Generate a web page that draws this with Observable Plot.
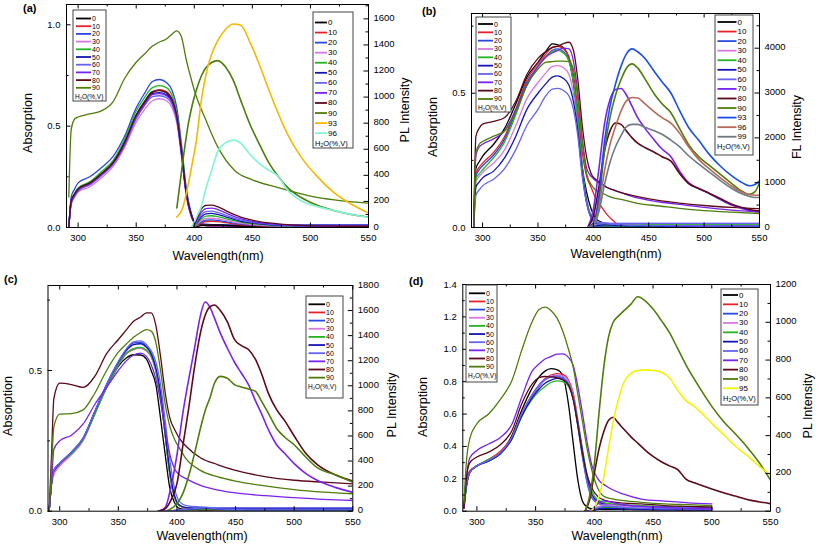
<!DOCTYPE html>
<html><head><meta charset="utf-8">
<script src="https://cdn.jsdelivr.net/npm/d3@7"></script>
<script src="https://cdn.jsdelivr.net/npm/@observablehq/plot@0.6"></script>
<style>
body{margin:0;background:#fff;font-family:"Liberation Sans",Arial,sans-serif}
#wrap{position:relative;width:817px;height:548px;overflow:hidden;background:#fff}
#wrap svg{position:absolute;overflow:visible}
</style></head>
<body><div id="wrap"></div>
<script>
// ---------- series colours ----------
const baseColors = {"0":"#000000","10":"#e8202a","20":"#2848e0","30":"#d878e0","40":"#22b422","50":"#1414b4","60":"#6464f0","70":"#7a22ee","80":"#5c0a1a","90":"#4e7d0a"};
const aExtraColors = {"93":"#f6b800","96":"#80f5d4"};
const bExtraColors = {"93":"#1a4fe8","96":"#b7695a","99":"#6e7a80"};
const dExtraColors = {"95":"#f4f400"};
const absSeries = ["0","10","20","30","40","50","60","70","80","90"];

// ---------- ticks ----------
const xMajor = [300,350,400,450,500,550];
const xMinor = [325,375,425,475,525];

// ================= Panel (a) =================
const aAbsNm = [292,294,297,300,310,320,330,340,350,357,364,370,376,381,385,389,393,397,401,410,420,435,450,470,500,550];
const aAbs = {
 "0": [0,.13,.165,.19,.22,.265,.32,.42,.555,.62,.67,.678,.665,.625,.545,.37,.17,.065,.02,.008,.006,.005,.005,.005,.005,.005],
 "10":[0,.12,.16,.185,.215,.26,.315,.415,.55,.615,.665,.68,.67,.63,.55,.38,.18,.07,.022,.01,.008,.007,.006,.006,.005,.005],
 "20":[0,.15,.19,.22,.25,.295,.35,.45,.59,.66,.72,.73,.715,.675,.59,.41,.2,.08,.025,.015,.014,.013,.013,.013,.013,.013],
 "30":[0,.11,.15,.175,.2,.245,.3,.395,.52,.58,.625,.635,.625,.59,.515,.35,.16,.06,.02,.01,.008,.007,.006,.006,.006,.006],
 "40":[0,.13,.17,.195,.225,.275,.33,.435,.575,.64,.69,.70,.69,.65,.565,.39,.19,.075,.022,.012,.01,.009,.008,.008,.008,.008],
 "50":[0,.12,.16,.185,.215,.26,.315,.415,.55,.612,.66,.665,.655,.62,.54,.37,.175,.07,.022,.015,.013,.012,.012,.012,.012,.012],
 "60":[0,.12,.155,.18,.21,.255,.31,.405,.535,.6,.645,.65,.64,.605,.53,.36,.17,.065,.02,.014,.012,.011,.011,.011,.011,.011],
 "70":[0,.125,.16,.185,.215,.26,.315,.41,.545,.605,.655,.66,.65,.615,.535,.365,.17,.065,.02,.01,.008,.007,.006,.006,.006,.006],
 "80":[0,.13,.165,.19,.22,.265,.32,.42,.555,.62,.668,.675,.665,.63,.55,.375,.175,.07,.022,.012,.01,.008,.007,.007,.007,.007],
 "90":[.15,.48,.535,.545,.56,.575,.62,.735,.815,.855,.895,.915,.93,.955,.97,.94,.83,.74,.66,.53,.40,.28,.235,.20,.155,.12]
};
const aPlNm = [385,390,395,398,402,406,410,415,420,427,434,440,448,456,464,472,480,492,506,520,535,550];
const aPl = {
 "0": [null,null,null,0,6,14,18,20,19,16,13,10,8,7,6,5,4,4,3,3,3,3],
 "10":[null,null,null,0,15,35,46,48,45,37,28,22,17,13,11,9,7,6,5,4,4,3],
 "20":[null,null,null,0,18,42,56,58,54,44,34,27,20,16,13,10,8,7,6,5,4,4],
 "30":[null,null,null,0,22,52,70,72,67,55,42,33,25,19,15,12,10,8,7,6,5,4],
 "40":[null,null,null,0,28,65,88,90,84,68,52,41,31,24,19,15,12,9,8,6,5,5],
 "50":[null,null,null,0,35,80,105,108,100,82,62,48,37,28,22,17,14,11,9,7,6,5],
 "60":[null,null,null,0,40,95,122,125,116,95,72,57,43,33,26,20,16,12,10,8,7,6],
 "70":[null,null,null,0,50,115,145,148,138,112,86,68,50,38,30,24,19,14,11,9,8,7],
 "80":[null,null,null,0,60,140,170,172,160,130,100,80,60,45,35,28,22,16,12,10,9,8],
 "90":[150,500,800,930,1060,1160,1225,1265,1280,1230,1120,975,790,640,500,395,310,230,170,130,100,80],
 "93":[80,150,340,480,680,970,1170,1330,1430,1520,1560,1550,1420,1250,1060,880,720,540,390,270,180,110],
 "96":[null,null,null,5,80,160,300,440,580,650,670,645,560,490,440,395,290,205,160,130,100,78]
};
const aPlSeries = ["0","10","20","30","40","50","60","70","80","90","93","96"];

// ================= Panel (b) =================
const bAbsNm = [292,294,297,300,310,320,330,340,350,357,363,368,373,378,382,386,390,394,398,402,407,412,418,425,440,460,480,500,525,550];
const bAbs = {
 "0": [0,.22,.245,.265,.31,.37,.46,.56,.615,.655,.684,.68,.67,.63,.54,.40,.225,.13,.07,.035,.02,.015,.012,.01,.008,.008,.008,.008,.008,.008],
 "10":[0,.2,.225,.24,.28,.34,.44,.55,.61,.645,.672,.675,.665,.635,.57,.44,.28,.19,.15,.11,.08,.05,.025,.005,0,0,0,0,0,0],
 "20":[0,.19,.215,.23,.27,.33,.43,.54,.60,.635,.66,.665,.655,.62,.54,.40,.22,.1,.04,.02,.012,.01,.009,.008,.008,.008,.008,.008,.008,.008],
 "30":[0,.17,.19,.205,.24,.29,.38,.48,.54,.575,.60,.603,.595,.57,.50,.38,.21,.1,.045,.025,.018,.016,.015,.015,.015,.015,.015,.015,.015,.015],
 "40":[0,.18,.2,.215,.26,.32,.42,.53,.60,.635,.655,.66,.65,.62,.54,.40,.22,.1,.04,.02,.012,.01,.01,.01,.01,.01,.01,.01,.01,.01],
 "50":[0,.15,.17,.185,.21,.26,.34,.44,.50,.535,.56,.565,.555,.53,.47,.36,.2,.09,.035,.015,.008,.006,.005,.005,.005,.005,.005,.005,.005,.005],
 "60":[0,.12,.14,.155,.18,.22,.29,.38,.44,.49,.515,.518,.51,.49,.44,.34,.19,.09,.035,.02,.018,.016,.015,.015,.015,.015,.015,.015,.015,.015],
 "70":[0,.27,.3,.31,.33,.36,.44,.53,.60,.635,.65,.66,.668,.665,.62,.50,.33,.22,.19,.175,.16,.15,.14,.13,.11,.095,.085,.075,.065,.058],
 "80":[0,.34,.37,.385,.395,.41,.47,.57,.63,.655,.67,.675,.685,.69,.66,.55,.38,.26,.20,.18,.165,.15,.14,.13,.115,.10,.09,.082,.075,.07],
 "90":[0,.28,.31,.32,.34,.36,.43,.53,.59,.615,.618,.62,.62,.618,.59,.48,.32,.2,.16,.14,.13,.12,.11,.105,.09,.08,.07,.063,.057,.052]
};
const bPlNm = [395,400,405,410,415,420,425,430,435,440,447,455,462,470,478,486,495,505,515,525,535,541,546,550];
const bPl = {
 "0": [0,5,10,12,11,10,9,8,8,7,7,7,6,6,6,6,6,6,6,6,6,6,6,6],
 "10":[0,8,15,18,17,15,13,12,11,10,10,9,9,9,8,8,8,8,8,8,8,8,8,8],
 "20":[0,10,25,30,28,25,22,20,19,18,17,16,15,15,14,14,13,13,13,12,12,12,12,12],
 "30":[0,25,70,80,72,65,58,52,48,45,42,40,38,36,35,34,33,32,31,30,30,30,30,30],
 "40":[0,15,40,45,42,38,34,31,29,27,25,24,23,22,21,20,20,19,19,18,18,18,18,18],
 "50":[0,20,50,60,55,48,42,38,35,33,31,30,28,27,26,25,24,24,23,23,22,22,22,22],
 "60":[0,30,80,90,80,70,60,55,50,48,45,42,40,38,36,35,34,33,32,31,30,30,30,30],
 "70":[0,400,1300,2300,2850,3080,3100,2950,2700,2450,2200,1950,1750,1580,1250,1000,870,750,620,500,420,380,360,350],
 "80":[0,250,900,1700,2150,2330,2300,2150,2000,1880,1780,1680,1580,1480,1200,980,870,760,640,520,440,400,380,370],
 "90":[0,80,600,1700,2450,2950,3300,3560,3650,3560,3300,2980,2760,2560,2200,1850,1580,1380,1180,980,800,740,800,1000],
 "93":[0,100,700,1900,2700,3200,3600,3880,3985,3920,3760,3480,3250,3000,2600,2230,1950,1620,1360,1150,990,930,960,1040],
 "96":[0,60,450,1250,1850,2250,2600,2830,2900,2890,2750,2580,2450,2330,2100,1800,1520,1300,1100,920,780,730,720,720],
 "99":[0,40,350,950,1450,1800,2050,2250,2300,2300,2230,2160,2080,1950,1800,1600,1420,1230,1040,870,740,690,670,670]
};
const bPlSeries = ["0","10","20","30","40","50","60","70","80","90","93","96","99"];

// ================= Panel (c) =================
const cAbsNm = [291,293,295,300,310,320,330,340,350,357,363,369,374,378,382,386,390,394,398,402,408,420,435,450,475,500,525,550];
const cAbs = {
 "0": [0,.1,.14,.165,.205,.255,.35,.44,.515,.545,.556,.555,.54,.50,.45,.33,.2,.08,.03,.01,.006,.005,.005,.005,.005,.005,.005,.005],
 "10":[0,.1,.14,.165,.205,.255,.35,.445,.52,.56,.575,.58,.57,.55,.50,.41,.27,.13,.05,.02,.01,.008,.008,.008,.008,.008,.008,.008],
 "20":[0,.1,.145,.17,.21,.26,.355,.45,.53,.575,.598,.60,.585,.56,.50,.41,.27,.13,.05,.02,.012,.01,.01,.01,.01,.01,.01,.01],
 "30":[0,.09,.13,.16,.2,.25,.345,.44,.52,.56,.578,.58,.57,.55,.50,.41,.27,.13,.05,.02,.012,.01,.01,.01,.01,.01,.01,.01],
 "40":[0,.1,.145,.17,.205,.255,.345,.44,.52,.562,.578,.582,.572,.552,.50,.41,.27,.13,.05,.02,.012,.01,.01,.01,.01,.01,.01,.01],
 "50":[0,.1,.145,.17,.21,.26,.355,.45,.53,.572,.592,.595,.582,.56,.51,.42,.28,.14,.055,.022,.013,.011,.01,.01,.01,.01,.01,.01],
 "60":[0,.1,.145,.17,.21,.26,.355,.45,.532,.578,.602,.605,.592,.57,.53,.45,.32,.18,.08,.035,.02,.015,.012,.012,.012,.012,.012,.012],
 "70":[0,.1,.22,.25,.27,.31,.38,.44,.50,.535,.555,.562,.55,.52,.47,.39,.29,.2,.15,.13,.115,.092,.075,.065,.055,.048,.042,.038],
 "80":[0,.2,.4,.455,.45,.44,.48,.56,.61,.645,.675,.69,.705,.705,.66,.55,.42,.33,.29,.26,.23,.19,.165,.145,.123,.11,.103,.097],
 "90":[0,.15,.3,.345,.347,.36,.42,.5,.565,.595,.618,.635,.645,.64,.6,.5,.38,.3,.255,.225,.185,.145,.122,.107,.09,.077,.068,.062]
};
const cPlNm = [384,390,395,400,405,410,415,420,424,428,432,437,443,449,455,461,467,472,478,485,492,500,510,520,535,550];
const cPl = {
 "0": [0,0,1,2,3,4,4,5,5,5,4,4,3,3,3,3,3,3,3,3,3,3,3,3,3,3],
 "10":[0,0,2,4,6,8,9,10,10,9,8,7,6,6,5,5,5,5,5,5,5,5,5,5,5,5],
 "20":[0,0,3,6,9,12,14,16,17,16,14,12,10,9,8,8,7,7,7,7,7,7,7,7,7,7],
 "30":[0,0,2,5,8,10,12,14,15,14,12,10,9,8,7,7,6,6,6,6,6,6,6,6,6,6],
 "40":[0,0,2,5,7,9,11,12,13,12,11,9,8,7,6,6,6,6,6,6,6,6,6,6,6,6],
 "50":[0,0,3,7,11,15,18,21,22,21,18,15,13,11,10,9,9,8,8,8,8,8,8,8,8,8],
 "60":[0,0,4,9,13,17,20,24,26,25,22,18,15,13,12,11,10,10,10,10,10,10,10,10,10,10],
 "70":[0,30,200,450,780,1050,1300,1560,1668,1630,1540,1420,1300,1190,1100,1010,880,780,650,530,460,380,300,245,190,150],
 "80":[0,20,90,220,520,820,1150,1420,1560,1630,1645,1600,1510,1370,1320,1290,1210,1100,940,810,720,600,460,370,290,240],
 "90":[null,0,20,60,140,280,460,660,800,900,1020,1075,1060,1010,990,975,955,880,780,660,590,530,430,345,290,230]
};

// ================= Panel (d) =================
const dAbsNm = [289,291,294,300,310,320,330,338,347,353,358,363,368,373,378,382,386,390,394,398,403,410,425,440,460,480,500];
const dAbs = {
 "0": [.02,.15,.24,.28,.31,.36,.47,.62,.76,.83,.865,.88,.875,.84,.66,.42,.19,.06,.025,.015,.012,.01,.01,.01,.01,.01,.01],
 "10":[.02,.2,.25,.28,.32,.37,.46,.60,.72,.78,.82,.84,.85,.845,.81,.73,.56,.37,.2,.1,.06,.045,.035,.03,.028,.025,.022],
 "20":[.02,.17,.24,.28,.31,.355,.45,.59,.71,.77,.81,.828,.83,.82,.78,.69,.52,.33,.17,.08,.05,.035,.028,.025,.022,.02,.018],
 "30":[.02,.17,.24,.28,.315,.36,.455,.595,.715,.775,.815,.835,.84,.835,.80,.72,.55,.36,.19,.09,.055,.04,.032,.028,.025,.022,.02],
 "40":[.02,.15,.24,.28,.32,.36,.45,.58,.69,.74,.77,.795,.805,.80,.77,.70,.55,.38,.22,.12,.07,.05,.04,.035,.03,.028,.025],
 "50":[.02,.15,.24,.28,.31,.355,.45,.585,.70,.755,.79,.81,.82,.815,.785,.70,.54,.36,.2,.1,.06,.04,.032,.028,.025,.022,.02],
 "60":[.02,.16,.24,.28,.315,.36,.46,.60,.72,.78,.815,.83,.835,.825,.79,.70,.53,.34,.18,.09,.05,.035,.03,.027,.025,.022,.02],
 "70":[.02,.2,.33,.375,.415,.455,.54,.70,.865,.91,.94,.955,.97,.972,.95,.90,.77,.6,.42,.28,.2,.155,.105,.075,.062,.052,.045],
 "80":[.02,.2,.3,.335,.365,.41,.5,.66,.785,.825,.832,.83,.825,.81,.78,.69,.53,.35,.22,.14,.09,.065,.05,.045,.035,.03,.025],
 "90":[.05,.3,.45,.54,.60,.69,.81,.99,1.17,1.245,1.26,1.24,1.195,1.115,1.0,.89,.72,.55,.38,.25,.14,.085,.065,.055,.045,.04,.035]
};
const dPlNm = [392,396,400,404,408,412,416,420,425,431,437,443,450,457,464,471,478,485,492,500,510,520,530,540,550];
const dPl = {
 "0": [0,2,6,10,12,12,11,10,9,8,7,7,6,6,6,5,5,5,5,5,null,null,null,null,null],
 "10":[0,3,10,18,22,22,20,18,16,14,13,12,11,10,10,9,9,9,8,8,null,null,null,null,null],
 "20":[0,3,9,15,18,18,17,15,14,12,11,10,10,9,9,8,8,8,8,8,null,null,null,null,null],
 "30":[0,4,14,26,32,33,31,28,25,22,20,18,17,16,15,14,13,13,12,12,null,null,null,null,null],
 "40":[0,3,10,17,20,20,19,17,15,14,13,12,11,11,10,10,10,9,9,9,null,null,null,null,null],
 "50":[0,2,7,12,15,15,14,13,12,11,10,9,9,8,8,8,7,7,7,7,null,null,null,null,null],
 "60":[0,3,11,20,25,26,24,22,20,18,16,15,14,13,12,12,11,11,11,10,null,null,null,null,null],
 "70":[0,5,20,45,55,50,45,40,35,30,27,25,22,20,18,16,15,14,13,12,null,null,null,null,null],
 "80":[0,60,200,330,420,480,497,470,435,395,360,325,290,262,240,220,170,150,135,118,98,80,62,50,40],
 "90":[0,80,250,520,760,920,1000,1030,1060,1095,1135,1115,1070,1010,945,860,775,700,630,555,475,410,340,260,165],
 "95":[null,0,20,80,180,330,470,580,680,730,745,748,745,735,705,640,585,555,515,465,405,345,295,240,190]
};
const dPlSeries = ["0","10","20","30","40","50","60","70","80","90","95"];

// ---------- helpers ----------
function rows(nm, vals, scale) {
  const out = [];
  nm.forEach((x, i) => { const v = vals[i]; if (v != null) out.push({nm: x, v: v / scale}); });
  return out;
}
function range(a, b, step) { const r = []; for (let v = a; v <= b + 1e-9; v += step) r.push(+v.toFixed(4)); return r; }

const wrap = document.getElementById("wrap");

function panel(p) {
  const ratio = p.plMax / p.absMax;
  const fw = p.width - p.mL - p.mR, fh = p.height - p.mT - p.mB;
  const marks = [];
  const colorOf = s => (p.extra && p.extra[s]) || baseColors[s];
  for (const s of absSeries) {
    marks.push(Plot.line(rows(p.absNm, p.abs[s], 1), {x: "nm", y: "v", stroke: colorOf(s), strokeWidth: 1.3, curve: "monotone-x", clip: true}));
  }
  for (const s of p.plSeries) {
    marks.push(Plot.line(rows(p.plNm, p.pl[s], ratio), {x: "nm", y: "v", stroke: colorOf(s), strokeWidth: p.bigPl.includes(s) ? 1.6 : 1.3, curve: "monotone-x", clip: true}));
  }
  const plMajorY = p.plMajor.map(v => v / ratio);
  const plMinorY = p.plMinor.map(v => v / ratio);
  marks.push(
    Plot.frame({stroke: "#000", strokeWidth: 1}),
    Plot.tickX(xMajor, {x: d => d, insetTop: fh - 4.5, stroke: "#000"}),
    Plot.tickX(xMinor, {x: d => d, insetTop: fh - 2.5, stroke: "#000"}),
    Plot.tickX(xMajor, {x: d => d, insetBottom: fh - 4.5, stroke: "#000"}),
    Plot.tickX(xMinor, {x: d => d, insetBottom: fh - 2.5, stroke: "#000"}),
    Plot.tickY(p.absMajor, {y: d => d, insetRight: fw - 4.5, stroke: "#000"}),
    Plot.tickY(p.absMinor, {y: d => d, insetRight: fw - 2.5, stroke: "#000"}),
    Plot.tickY(plMajorY, {y: d => d, insetLeft: fw - 4.5, stroke: "#000"}),
    Plot.tickY(plMinorY, {y: d => d, insetLeft: fw - 2.5, stroke: "#000"}),
    Plot.axisX({ticks: xMajor, tickSize: 0, tickPadding: 7, label: null, tickFormat: d => d}),
    Plot.axisY({anchor: "left", ticks: p.absMajor, tickSize: 0, tickPadding: 6, label: null, tickFormat: d3.format(".1f")}),
    Plot.axisY({anchor: "right", ticks: plMajorY, tickSize: 0, tickPadding: 5, label: null, tickFormat: d => String(Math.round(d * ratio)), dy: -1})
  );
  const svg = Plot.plot({
    width: p.width, height: p.height,
    marginLeft: p.mL, marginRight: p.mR, marginTop: p.mT, marginBottom: p.mB,
    x: {domain: p.xDomain},
    y: {domain: [0, p.absMax]},
    style: {fontFamily: "'Liberation Sans', Arial, sans-serif", fontSize: "9.5px", color: "#000", background: "transparent", overflow: "visible"},
    marks
  });
  svg.style.left = p.left + "px";
  svg.style.top = p.top + "px";
  wrap.appendChild(svg);
}

panel({left: 0, top: 0, width: 410, height: 270, mL: 66, mR: 42, mT: 4, mB: 43,
  xDomain: [290, 550], absMax: 1.1, plMax: 1710,
  absMajor: [0, 0.5, 1.0], absMinor: [0.25, 0.75],
  plMajor: range(0, 1600, 200), plMinor: range(100, 1700, 200),
  absNm: aAbsNm, abs: aAbs, plNm: aPlNm, pl: aPl, plSeries: aPlSeries, bigPl: ["90","93","96"], extra: aExtraColors});

panel({left: 410, top: 0, width: 407, height: 270, mL: 61, mR: 58, mT: 13, mB: 43,
  xDomain: [290, 550], absMax: 0.797, plMax: 4774,
  absMajor: [0, 0.5], absMinor: [0.25, 0.75],
  plMajor: range(0, 4000, 1000), plMinor: range(500, 4500, 1000),
  absNm: bAbsNm, abs: bAbs, plNm: bPlNm, pl: bPl, plSeries: bPlSeries, bigPl: ["70","80","90","93","96","99"], extra: bExtraColors});

panel({left: 0, top: 270, width: 410, height: 278, mL: 47.5, mR: 57.7, mT: 15, mB: 37.3,
  xDomain: [290, 550], absMax: 0.802, plMax: 1800,
  absMajor: [0, 0.5], absMinor: [0.25, 0.75],
  plMajor: range(0, 1800, 200), plMinor: range(100, 1700, 200),
  absNm: cAbsNm, abs: cAbs, plNm: cPlNm, pl: cPl, plSeries: absSeries, bigPl: ["70","80","90"], extra: null});

panel({left: 410, top: 270, width: 407, height: 278, mL: 52.3, mR: 47, mT: 14, mB: 37.3,
  xDomain: [288, 550], absMax: 1.4, plMax: 1200,
  absMajor: range(0, 1.4, 0.2), absMinor: range(0.1, 1.3, 0.2),
  plMajor: range(0, 1200, 200), plMinor: range(100, 1100, 200),
  absNm: dAbsNm, abs: dAbs, plNm: dPlNm, pl: dPl, plSeries: dPlSeries, bigPl: ["80","90","95"], extra: dExtraColors});

// ---------- overlay: titles, axis labels, legends ----------
const ov = d3.select(wrap).append("svg").attr("width", 817).attr("height", 548)
  .style("left", "0px").style("top", "0px")
  .style("font-family", "'Liberation Sans', Arial, sans-serif");

const panelTags = [["(a)", 23, 12], ["(b)", 422, 15], ["(c)", 4, 283], ["(d)", 409, 285]];
panelTags.forEach(([t, x, y]) => ov.append("text").attr("x", x).attr("y", y).attr("font-size", 11).attr("font-weight", "bold").text(t));

const xTitles = [[218, 260], [616, 258], [202, 540], [617, 540]];
xTitles.forEach(([x, y]) => ov.append("text").attr("x", x).attr("y", y).attr("text-anchor", "middle").attr("font-size", 12.5).text("Wavelength(nm)"));

const yTitles = [["Absorption", 28, 123], ["PL Intensity", 405, 110], ["Absorption", 433, 127], ["FL Intensity", 797, 127],
                 ["Absorption", 8, 406], ["PL Intensity", 392, 405], ["Absorption", 423, 407], ["PL Intensity", 808, 406]];
yTitles.forEach(([t, x, y]) => ov.append("text").attr("transform", `translate(${x},${y}) rotate(-90)`)
  .attr("text-anchor", "middle").attr("dominant-baseline", "central").attr("font-size", 12.5).text(t));

function legend(L) {
  const g = ov.append("g");
  g.append("rect").attr("x", L.box[0]).attr("y", L.box[1]).attr("width", L.box[2] - L.box[0]).attr("height", L.box[3] - L.box[1])
    .attr("fill", "#fff").attr("stroke", "#444").attr("stroke-width", 1);
  L.items.forEach((s, i) => {
    const y = L.y0 + i * L.dy;
    g.append("line").attr("x1", L.sw[0]).attr("x2", L.sw[1]).attr("y1", y).attr("y2", y)
      .attr("stroke", (L.extra && L.extra[s]) || baseColors[s]).attr("stroke-width", 1.8);
    g.append("text").attr("x", L.sw[1] + 1).attr("y", y).attr("dominant-baseline", "central").attr("font-size", L.fs).text(s);
  });
  const hy = L.y0 + L.items.length * L.dy;
  const t = g.append("text").attr("x", L.box[0] + 2).attr("y", hy).attr("dominant-baseline", "central").attr("font-size", L.fs - 0.5);
  t.append("tspan").text("H");
  t.append("tspan").attr("font-size", (L.fs - 0.5) * 0.65).attr("dy", 2).text("2");
  t.append("tspan").attr("dy", -2).text("O(%,V)");
}
legend({box: [73, 10, 106, 101], y0: 18.5, dy: 7.7, sw: [76, 91], fs: 7, items: absSeries});
legend({box: [313, 12, 353, 148], y0: 22.5, dy: 10.06, sw: [315, 327], fs: 8, items: aPlSeries, extra: aExtraColors});
legend({box: [476, 17, 511, 112], y0: 24, dy: 8.33, sw: [478, 493], fs: 7, items: absSeries});
legend({box: [715, 15, 753, 155], y0: 22, dy: 9.56, sw: [717.5, 736.5], fs: 8, items: bPlSeries, extra: bExtraColors});
legend({box: [306, 296, 343, 398], y0: 304.3, dy: 8.15, sw: [308.5, 325], fs: 7, items: absSeries});
legend({box: [466, 285, 497, 382], y0: 293.3, dy: 8.15, sw: [469, 485], fs: 7, items: absSeries});
legend({box: [721, 289, 758, 405], y0: 295, dy: 9.33, sw: [723, 738], fs: 8, items: dPlSeries, extra: dExtraColors});
</script>
</body></html>
